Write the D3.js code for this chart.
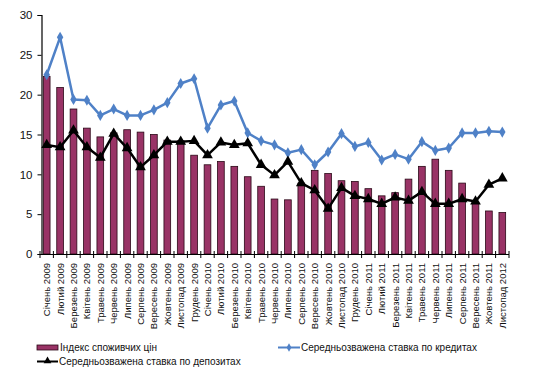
<!DOCTYPE html>
<html><head><meta charset="utf-8">
<script src="https://cdn.jsdelivr.net/npm/d3@7"></script>
<style>
body{margin:0;background:#fff;}
svg{display:block;font-family:"Liberation Sans",Arial,sans-serif;}
</style></head><body>
<svg id="chart" width="533" height="380"></svg>
<script>
const categories = ["Січень 2009","Лютий 2009","Березень 2009","Квітень 2009","Травень 2009","Червень 2009","Липень 2009","Серпень 2009","Вересень 2009","Жовтень 2009","Листопад 2009","Грудень 2009",
"Січень 2010","Лютий 2010","Березень 2010","Квітень 2010","Травень 2010","Червень 2010","Липень 2010","Серпень 2010","Вересень 2010","Жовтень 2010","Листопад 2010","Грудень 2010",
"Січень 2011","Лютий 2011","Березень 2011","Квітень 2011","Травень 2011","Червень 2011","Липень 2011","Серпень 2011","Вересень 2011","Жовтень 2011","Листопад 2012"];
const cpi = [22.3,20.9,18.2,15.8,14.7,15.2,15.6,15.3,15.0,14.3,14.2,12.4,
11.2,11.6,11.0,9.7,8.5,6.9,6.8,8.9,10.5,10.1,9.2,9.1,
8.2,7.3,7.7,9.4,11.0,11.9,10.5,8.9,6.4,5.4,5.2];
const credit = [22.5,27.2,19.4,19.3,17.4,18.2,17.4,17.4,18.1,19.0,21.4,22.0,
15.8,18.7,19.2,15.2,14.2,13.7,12.7,13.1,11.2,12.8,15.1,13.5,
14.0,11.8,12.5,11.9,14.1,13.0,13.3,15.2,15.2,15.4,15.3];
const deposit = [13.7,13.4,15.5,13.4,12.1,15.1,13.3,10.9,12.4,14.1,14.1,14.2,
12.4,14.0,13.7,13.9,11.2,9.9,11.6,8.9,8.0,5.7,8.3,7.3,
6.9,6.3,7.1,6.7,7.8,6.3,6.3,6.9,6.6,8.7,9.5];
const yTicks = [0,5,10,15,20,25,30];
const legendLabels = ["Індекс споживчих цін","Середньозважена ставка по кредитах","Середньозважена ставка по депозитах"];

const svg = d3.select("#chart");
const x = d3.scaleBand().domain(d3.range(categories.length)).range([40,509]).paddingInner(0.5).paddingOuter(0.25);
const y = d3.scaleLinear().domain([0,30]).range([254,15]);
const cx = i => x(i) + x.bandwidth()/2;

// bars
svg.append("g").selectAll("rect").data(cpi).join("rect")
  .attr("x",(d,i)=>x(i)).attr("width",x.bandwidth())
  .attr("y",d=>y(d)).attr("height",d=>y(0)-y(d))
  .attr("fill","#993366").attr("stroke","#2a0716").attr("stroke-width",0.8);

// y axis
const ya = svg.append("g").attr("transform","translate(41.5,0)")
  .call(d3.axisLeft(y).tickValues(yTicks).tickSize(4).tickPadding(5));
ya.select(".domain").attr("stroke","#000").attr("stroke-width",1.2);
ya.selectAll("text").attr("font-size","11.5px").attr("fill","#111");

// x axis
const step = x.step();
const xa = svg.append("g");
xa.append("line").attr("x1",41.5).attr("x2",509).attr("y1",y(0)+0.5).attr("y2",y(0)+0.5).attr("stroke","#000").attr("stroke-width",1.2);
xa.selectAll("line.t").data(d3.range(categories.length+1)).join("line").attr("class","t")
  .attr("x1",i=>cx(0)-step/2+i*step).attr("x2",i=>cx(0)-step/2+i*step)
  .attr("y1",y(0)-3).attr("y2",y(0)+4).attr("stroke","#000").attr("stroke-width",1);
xa.selectAll("text").data(categories).join("text")
  .attr("transform",(d,i)=>`translate(${cx(i)+3.5},${y(0)+9}) rotate(-90)`)
  .attr("text-anchor","end").attr("font-size","9.5px").attr("fill","#111").text(d=>d);

// lines
const line = d3.line().x((d,i)=>cx(i)).y(d=>y(d));
svg.append("path").datum(credit).attr("d",line).attr("fill","none").attr("stroke","#4f81c7").attr("stroke-width",2.5).attr("stroke-linejoin","round");
svg.append("g").selectAll("path").data(credit).join("path")
  .attr("d",d3.symbol(d3.symbolDiamond,36)).attr("transform",(d,i)=>`translate(${cx(i)},${y(d)})`)
  .attr("fill","#4f81c7");
svg.append("path").datum(deposit).attr("d",line).attr("fill","none").attr("stroke","#000").attr("stroke-width",2.5).attr("stroke-linejoin","round");
svg.append("g").selectAll("path").data(deposit).join("path")
  .attr("d",d3.symbol(d3.symbolTriangle,50)).attr("transform",(d,i)=>`translate(${cx(i)},${y(d)})`)
  .attr("fill","#000");

// legend
const lg = svg.append("g").attr("font-size","10px").attr("fill","#111");
lg.append("rect").attr("x",37).attr("y",345).attr("width",21).attr("height",5).attr("fill","#993366").attr("stroke","#2a0716").attr("stroke-width",0.8);
lg.append("text").attr("x",60).attr("y",351).text(legendLabels[0]);
lg.append("line").attr("x1",278).attr("x2",300).attr("y1",347.5).attr("y2",347.5).attr("stroke","#4f81c7").attr("stroke-width",2);
lg.append("path").attr("d",d3.symbol(d3.symbolDiamond,20)).attr("transform","translate(289,347.5)").attr("fill","#4f81c7");
lg.append("text").attr("x",301).attr("y",351).text(legendLabels[1]);
lg.append("line").attr("x1",37).attr("x2",58).attr("y1",361.5).attr("y2",361.5).attr("stroke","#000").attr("stroke-width",2);
lg.append("path").attr("d",d3.symbol(d3.symbolTriangle,26)).attr("transform","translate(47.5,361)").attr("fill","#000");
lg.append("text").attr("x",59).attr("y",365).text(legendLabels[2]);
</script>
</body></html>
